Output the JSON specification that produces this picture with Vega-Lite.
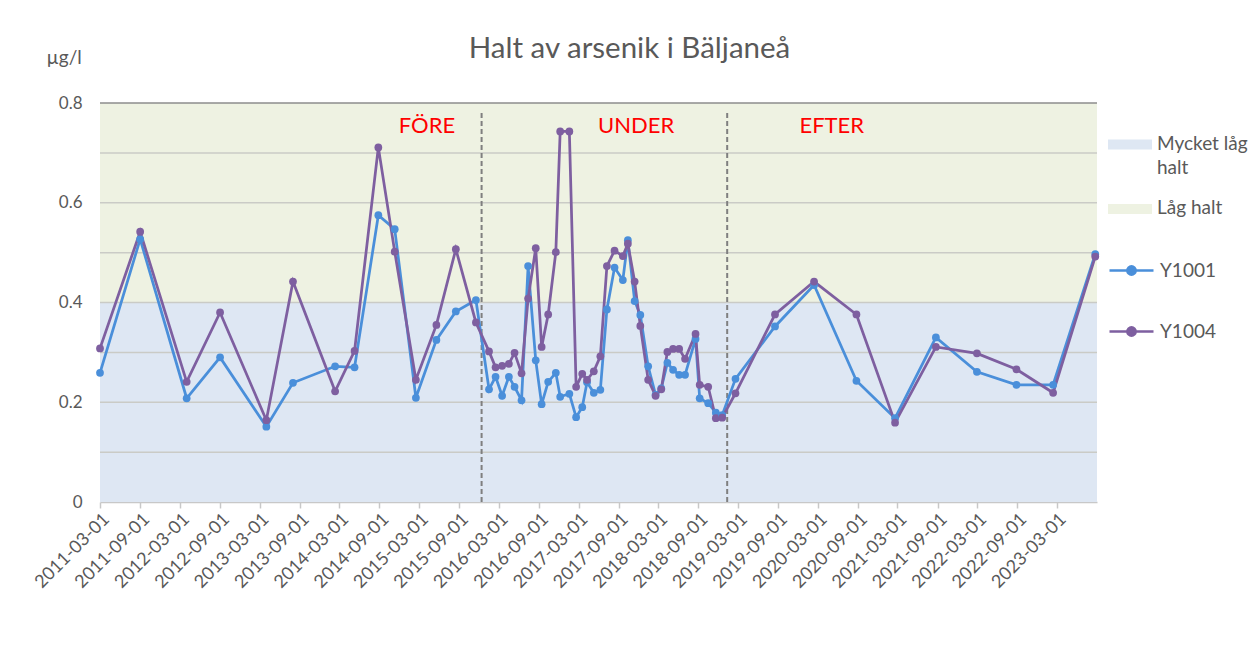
{
  "$schema": "https://vega.github.io/schema/vega-lite/v6.json",
  "width": 997,
  "height": 399,
  "autosize": {"type": "none"},
  "padding": {"left": 100, "top": 103, "right": 153, "bottom": 150},
  "background": "white",
  "config": {"view": {"stroke": null}, "font": "Lato"},
  "title": {"text": "Halt av arsenik i Bäljaneå", "font": "Lato", "fontSize": 29.5, "fontWeight": "normal", "color": "#595959", "anchor": "middle", "dx": 31, "dy": 54, "offset": 15, "baseline": "alphabetic"},
  "datasets": {
    "samples": [
      {"d":"2011-03-01","Y1001":0.259,"Y1004":0.308},
      {"d":"2011-09-01","Y1001":0.527,"Y1004":0.542},
      {"d":"2012-04-01","Y1001":0.208,"Y1004":0.241},
      {"d":"2012-09-01","Y1001":0.290,"Y1004":0.380},
      {"d":"2013-04-01","Y1001":0.151,"Y1004":0.164},
      {"d":"2013-08-01","Y1001":0.239,"Y1004":0.442},
      {"d":"2014-02-10","Y1001":0.272,"Y1004":0.222},
      {"d":"2014-05-10","Y1001":0.270,"Y1004":0.303},
      {"d":"2014-08-27","Y1001":0.575,"Y1004":0.711},
      {"d":"2014-11-10","Y1001":0.547,"Y1004":0.502},
      {"d":"2015-02-15","Y1001":0.209,"Y1004":0.245},
      {"d":"2015-05-20","Y1001":0.325,"Y1004":0.355},
      {"d":"2015-08-17","Y1001":0.382,"Y1004":0.507},
      {"d":"2015-11-17","Y1001":0.405,"Y1004":0.360},
      {"d":"2016-01-16","Y1001":0.226,"Y1004":0.302},
      {"d":"2016-02-15","Y1001":0.251,"Y1004":0.270},
      {"d":"2016-03-16","Y1001":0.213,"Y1004":0.273},
      {"d":"2016-04-16","Y1001":0.251,"Y1004":0.277},
      {"d":"2016-05-12","Y1001":0.231,"Y1004":0.299},
      {"d":"2016-06-13","Y1001":0.204,"Y1004":0.258},
      {"d":"2016-07-13","Y1001":0.473,"Y1004":0.408},
      {"d":"2016-08-17","Y1001":0.284,"Y1004":0.509},
      {"d":"2016-09-13","Y1001":0.196,"Y1004":0.311},
      {"d":"2016-10-13","Y1001":0.241,"Y1004":0.376},
      {"d":"2016-11-17","Y1001":0.259,"Y1004":0.501},
      {"d":"2016-12-07","Y1001":0.211,"Y1004":0.743},
      {"d":"2017-01-18","Y1001":0.217,"Y1004":0.743},
      {"d":"2017-02-18","Y1001":0.170,"Y1004":0.231},
      {"d":"2017-03-18","Y1001":0.190,"Y1004":0.257},
      {"d":"2017-04-09","Y1001":0.240,"Y1004":0.245},
      {"d":"2017-05-10","Y1001":0.219,"Y1004":0.262},
      {"d":"2017-06-09","Y1001":0.225,"Y1004":0.292},
      {"d":"2017-07-09","Y1001":0.386,"Y1004":0.473},
      {"d":"2017-08-13","Y1001":0.470,"Y1004":0.504},
      {"d":"2017-09-20","Y1001":0.445,"Y1004":0.493},
      {"d":"2017-10-13","Y1001":0.525,"Y1004":0.518},
      {"d":"2017-11-13","Y1001":0.403,"Y1004":0.442},
      {"d":"2017-12-09","Y1001":0.375,"Y1004":0.353},
      {"d":"2018-01-14","Y1001":0.272,"Y1004":0.245},
      {"d":"2018-02-17","Y1001":0.215,"Y1004":0.213},
      {"d":"2018-03-15","Y1001":0.228,"Y1004":0.226},
      {"d":"2018-04-12","Y1001":0.279,"Y1004":0.301},
      {"d":"2018-05-08","Y1001":0.265,"Y1004":0.307},
      {"d":"2018-06-05","Y1001":0.255,"Y1004":0.307},
      {"d":"2018-07-02","Y1001":0.255,"Y1004":0.287},
      {"d":"2018-08-19","Y1001":0.327,"Y1004":0.337},
      {"d":"2018-09-07","Y1001":0.208,"Y1004":0.235},
      {"d":"2018-10-16","Y1001":0.198,"Y1004":0.231},
      {"d":"2018-11-20","Y1001":0.179,"Y1004":0.168},
      {"d":"2018-12-19","Y1001":0.174,"Y1004":0.169},
      {"d":"2019-02-18","Y1001":0.247,"Y1004":0.218},
      {"d":"2019-08-18","Y1001":0.352,"Y1004":0.376},
      {"d":"2020-02-13","Y1001":0.435,"Y1004":0.442},
      {"d":"2020-08-25","Y1001":0.243,"Y1004":0.376},
      {"d":"2021-02-18","Y1001":0.168,"Y1004":0.159},
      {"d":"2021-08-24","Y1001":0.330,"Y1004":0.311},
      {"d":"2022-02-28","Y1001":0.261,"Y1004":0.298},
      {"d":"2022-08-28","Y1001":0.235,"Y1004":0.266},
      {"d":"2023-02-12","Y1001":0.235,"Y1004":0.219},
      {"d":"2023-08-24","Y1001":0.497,"Y1004":0.492}
    ],
    "bands": [
      {"band": "Mycket låg halt", "lo": 0, "hi": 0.4},
      {"band": "Låg halt", "lo": 0.4, "hi": 0.8}
    ],
    "grid": [{"v": 0.1}, {"v": 0.2}, {"v": 0.3}, {"v": 0.4}, {"v": 0.5}, {"v": 0.6}, {"v": 0.7}, {"v": 0.8}],
    "phases": [{"d": "2015-12-13"}, {"d": "2019-01-11"}],
    "phaseLabels": [
      {"d": "2015-04-07", "t": "FÖRE"},
      {"d": "2017-11-20", "t": "UNDER"},
      {"d": "2020-05-04", "t": "EFTER"}
    ]
  },
  "layer": [
    {
      "data": {"name": "bands"},
      "mark": {"type": "rect"},
      "encoding": {
        "y": {
          "field": "lo", "type": "quantitative", "scale": {"domain": [0, 0.8], "nice": false},
          "axis": {
            "values": [0, 0.2, 0.4, 0.6, 0.8], "format": ".1~f", "grid": false, "domain": false, "ticks": false,
            "labelFont": "Lato", "labelFontSize": 17, "labelColor": "#595959", "labelPadding": 18,
            "title": "µg/l", "titleAngle": 0, "titleX": -54, "titleY": -40, "titleAlign": "left", "titleBaseline": "alphabetic",
            "titleFont": "Lato", "titleFontSize": 19, "titleFontWeight": "normal", "titleColor": "#595959"
          }
        },
        "y2": {"field": "hi"},
        "fill": {
          "field": "band", "type": "nominal",
          "scale": {"domain": ["Mycket låg halt", "Låg halt"], "range": ["#DEE7F3", "#EEF2E2"]},
          "legend": {
            "orient": "none", "legendX": 1008, "legendY": 19.5, "title": null, "padding": 0,
            "symbolType": "M-1,-0.23H1V0.23H-1Z", "symbolSize": 1936, "symbolStrokeWidth": 0,
            "labelFont": "Lato", "labelFontSize": 19, "labelColor": "#595959", "labelOffset": 5, "labelLimit": 200,
            "rowPadding": 9.5, "labelBaseline": "top",
            "labelExpr": "datum.label == 'Mycket låg halt' ? ['Mycket låg', 'halt'] : datum.label",
            "encode": {"labels": {"update": {"dy": {"value": -10}, "lineHeight": {"value": 24}}}}
          }
        }
      }
    },
    {
      "data": {"name": "grid"},
      "mark": {"type": "rule", "strokeWidth": 1.5},
      "encoding": {
        "y": {"field": "v", "type": "quantitative"},
        "color": {"condition": {"test": "datum.v > 0.75", "value": "#8c8c8c"}, "value": "#cacbc6"}
      }
    },
    {
      "data": {"name": "phases"},
      "mark": {"type": "rule", "strokeWidth": 2, "strokeDash": [5, 3], "color": "#7f7f7f"},
      "encoding": {
        "x": {"field": "d", "type": "temporal", "scale": {"type": "utc"}},
        "y": {"datum": 0.78, "type": "quantitative"},
        "y2": {"datum": 0}
      }
    },
    {
      "data": {"name": "phaseLabels"},
      "mark": {"type": "text", "font": "Lato", "fontSize": 22, "color": "#FF0000", "align": "center", "baseline": "alphabetic"},
      "encoding": {
        "x": {"field": "d", "type": "temporal", "scale": {"type": "utc"}},
        "y": {"datum": 0.7405, "type": "quantitative"},
        "text": {"field": "t"}
      }
    },
    {
      "data": {"name": "samples"},
      "transform": [{"fold": ["Y1001", "Y1004"], "as": ["station", "value"]}],
      "mark": {"type": "line", "strokeWidth": 2.75, "point": {"filled": true, "size": 60}},
      "encoding": {
        "x": {
          "field": "d", "type": "temporal",
          "scale": {"type": "utc", "domain": [{"year": 2011, "month": 3, "date": 1, "utc": true}, {"year": 2023, "month": 9, "date": 1, "utc": true}]},
          "axis": {
            "title": null, "format": "%Y-%m-%d", "labelAngle": -45, "labelFont": "Lato", "labelFontSize": 18, "labelColor": "#595959",
            "labelOverlap": false, "labelFlush": false, "labelBound": false, "grid": false,
            "domainColor": "#c8c8c8", "domainWidth": 1.5, "tickColor": "#c8c8c8", "tickSize": 6, "tickWidth": 1.5,
            "values": [
              {"year": 2011, "month": 3, "date": 1, "utc": true}, {"year": 2011, "month": 9, "date": 1, "utc": true},
              {"year": 2012, "month": 3, "date": 1, "utc": true}, {"year": 2012, "month": 9, "date": 1, "utc": true},
              {"year": 2013, "month": 3, "date": 1, "utc": true}, {"year": 2013, "month": 9, "date": 1, "utc": true},
              {"year": 2014, "month": 3, "date": 1, "utc": true}, {"year": 2014, "month": 9, "date": 1, "utc": true},
              {"year": 2015, "month": 3, "date": 1, "utc": true}, {"year": 2015, "month": 9, "date": 1, "utc": true},
              {"year": 2016, "month": 3, "date": 1, "utc": true}, {"year": 2016, "month": 9, "date": 1, "utc": true},
              {"year": 2017, "month": 3, "date": 1, "utc": true}, {"year": 2017, "month": 9, "date": 1, "utc": true},
              {"year": 2018, "month": 3, "date": 1, "utc": true}, {"year": 2018, "month": 9, "date": 1, "utc": true},
              {"year": 2019, "month": 3, "date": 1, "utc": true}, {"year": 2019, "month": 9, "date": 1, "utc": true},
              {"year": 2020, "month": 3, "date": 1, "utc": true}, {"year": 2020, "month": 9, "date": 1, "utc": true},
              {"year": 2021, "month": 3, "date": 1, "utc": true}, {"year": 2021, "month": 9, "date": 1, "utc": true},
              {"year": 2022, "month": 3, "date": 1, "utc": true}, {"year": 2022, "month": 9, "date": 1, "utc": true},
              {"year": 2023, "month": 3, "date": 1, "utc": true}
            ]
          }
        },
        "y": {"field": "value", "type": "quantitative"},
        "color": {
          "field": "station", "type": "nominal",
          "scale": {"domain": ["Y1001", "Y1004"], "range": ["#4A8FDA", "#7E5FA0"]},
          "legend": {
            "orient": "none", "legendX": 1008, "legendY": 144, "title": null, "padding": 0,
            "symbolType": "M-1,0H1M0.19,0A0.19,0.19,0,1,1,-0.19,0A0.19,0.19,0,1,1,0.19,0",
            "symbolSize": 1936, "symbolStrokeWidth": 2.5,
            "labelFont": "Lato", "labelFontSize": 19, "labelColor": "#595959", "labelOffset": 5, "rowPadding": 27,
            "encode": {"symbols": {"update": {"fill": {"scale": "color", "field": "value"}, "stroke": {"scale": "color", "field": "value"}}}}
          }
        }
      }
    }
  ]
}
